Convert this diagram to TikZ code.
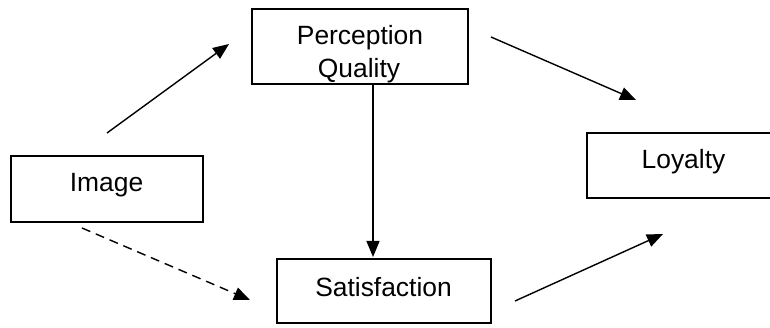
\documentclass[tikz,border=0pt]{standalone}
\usepackage{fontspec}
\setmainfont{Liberation Sans}
\usetikzlibrary{arrows.meta}

\begin{document}
\begin{tikzpicture}[x=1pt,y=-1pt,
  box/.style={draw=black,line width=1.7pt,rectangle,inner sep=0pt},
  lbl/.style={anchor=base,inner sep=0pt,font=\fontsize{26.4}{33}\selectfont},
  link/.style={line width=1.4pt,-{Triangle[length=16pt,width=13pt]}},
  linkdash/.style={link,dash pattern=on 9pt off 6pt}]
\useasboundingbox (0,0) rectangle (770,328);
\clip (0,0) rectangle (770,328);

% boxes
\node[box,minimum width=192pt,minimum height=66pt] (img) at (107,189) {};
\node[box,minimum width=216pt,minimum height=75pt] (pq) at (360,46.5) {};
\node[box,minimum width=192pt,minimum height=65pt] (loy) at (683,165.5) {};
\node[box,minimum width=214pt,minimum height=64pt] (sat) at (384,291) {};

% labels
\node[lbl] (imgT) at (106.5,192) {Image};
\node[lbl] (pqT1) at (360,45) {Perception};
\begin{scope}
  \clip (250,50) rectangle (470,82.5);
  \node[lbl] (pqT2) at (359,78) {Quality};
\end{scope}
\node[lbl] (loyT) at (683.5,169) {Loyalty};
\node[lbl] (satT) at (383.5,297) {Satisfaction};

% connector end points
\coordinate (a1) at (107,133);  \coordinate (a2) at (229,44);
\coordinate (b1) at (491,37);   \coordinate (b2) at (636,100);
\coordinate (c1) at (373,84);   \coordinate (c2) at (373,257);
\coordinate (d1) at (82,228);   \coordinate (d2) at (250,300);
\coordinate (e1) at (515,301);  \coordinate (e2) at (663,234);

\draw[link] (a1) -- (a2);
\draw[link] (b1) -- (b2);
\draw[link] (c1) -- (c2);
\draw[linkdash] (d1) -- (d2);
\draw[link] (e1) -- (e2);
\end{tikzpicture}
\end{document}
